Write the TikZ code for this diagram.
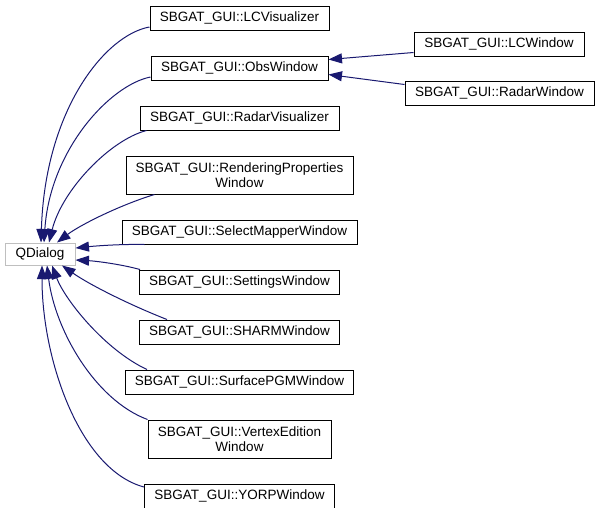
\documentclass[tikz,border=0pt]{standalone}
\usepackage{fontspec}
\setmainfont{Liberation Sans}
\usepackage{tikz}
\usetikzlibrary{positioning,arrows.meta}
\definecolor{edgeblue}{HTML}{191970}
\definecolor{basegray}{HTML}{BFBFBF}

\begin{document}
\begin{tikzpicture}[
  x=1pt,y=-1pt,
  font=\fontsize{13.5}{15.5}\selectfont,
  node distance=25pt and 80pt,
  box/.style={draw=black,fill=white,minimum height=24pt,align=center,line width=1pt,inner sep=3pt},
  basebox/.style={box,draw=basegray},
  edge/.style={-{Triangle[length=13.5pt,width=10pt]},draw=edgeblue,line width=1pt}
]
\useasboundingbox (0,0) rectangle (598,507);

\node[box,minimum width=179pt] at (239.5,18) (lcvis) {SBGAT\_GUI::LCVisualizer};
\node[box,minimum width=177pt,below=of lcvis] (obs) {SBGAT\_GUI::ObsWindow};
\node[box,minimum width=199pt,below=of obs] (radarvis) {SBGAT\_GUI::RadarVisualizer};
\node[box,minimum width=227pt,minimum height=38pt,below=of radarvis] (render) {SBGAT\_GUI::RenderingProperties\\Window};
\node[box,minimum width=235pt,below=of render] (selmap) {SBGAT\_GUI::SelectMapperWindow};
\node[box,minimum width=200pt,below=of selmap] (settings) {SBGAT\_GUI::SettingsWindow};
\node[box,minimum width=200pt,below=of settings] (sharm) {SBGAT\_GUI::SHARMWindow};
\node[box,minimum width=228pt,below=of sharm] (surfpgm) {SBGAT\_GUI::SurfacePGMWindow};
\node[box,minimum width=183pt,minimum height=38pt,below=of surfpgm] (vertex) {SBGAT\_GUI::VertexEdition\\Window};
\node[box,minimum width=190pt,below=of vertex] (yorp) {SBGAT\_GUI::YORPWindow};

\node[box,minimum width=170pt,right=85pt of obs,yshift=24pt] (lcwin) {SBGAT\_GUI::LCWindow};
\node[box,minimum width=189pt,right=76pt of obs,yshift=-25pt] (radarwin) {SBGAT\_GUI::RadarWindow};

\node[basebox,minimum width=70pt,minimum height=22pt] at (40,254) (qd) {QDialog};

% into QDialog, top side
\draw[edge] ([yshift=-9pt]lcvis.west) .. controls (105,35) and (45,110) .. ([xshift=1pt]qd.north);
\draw[edge] ([yshift=-9pt]obs.west) .. controls (110,85) and (50,150) .. ([xshift=4pt]qd.north);
\draw[edge] ([xshift=7pt]radarvis.south west) .. controls (110,140) and (62,190) .. ([xshift=9pt]qd.north);
\draw[edge] ([xshift=29pt]render.south west) .. controls (120,205) and (80,225) .. ([xshift=17pt]qd.north);
% right side
\draw[edge] ([xshift=23pt]selmap.south west) .. controls (120,244) and (95,246) .. ([yshift=6pt]qd.east);
\draw[edge] ([xshift=1pt]settings.north west) .. controls (120,264) and (95,261) .. ([yshift=-6pt]qd.east);
% bottom side
\draw[edge] ([xshift=28pt]sharm.north west) .. controls (130,305) and (90,285) .. ([xshift=22pt]qd.south);
\draw[edge] ([xshift=22pt]surfpgm.north west) .. controls (105,350) and (65,300) .. ([xshift=12pt]qd.south);
\draw[edge] (vertex.north west) .. controls (95,400) and (55,330) .. ([xshift=7pt]qd.south);
\draw[edge] ([yshift=9pt]yorp.west) .. controls (80,470) and (42,360) .. ([xshift=2pt]qd.south);

% into ObsWindow
\draw[edge] ([yshift=-8.5pt]lcwin.west) -- ([yshift=8.5pt]obs.east);
\draw[edge] ([yshift=8.5pt]radarwin.west) -- ([yshift=-6.5pt]obs.east);
\end{tikzpicture}
\end{document}
